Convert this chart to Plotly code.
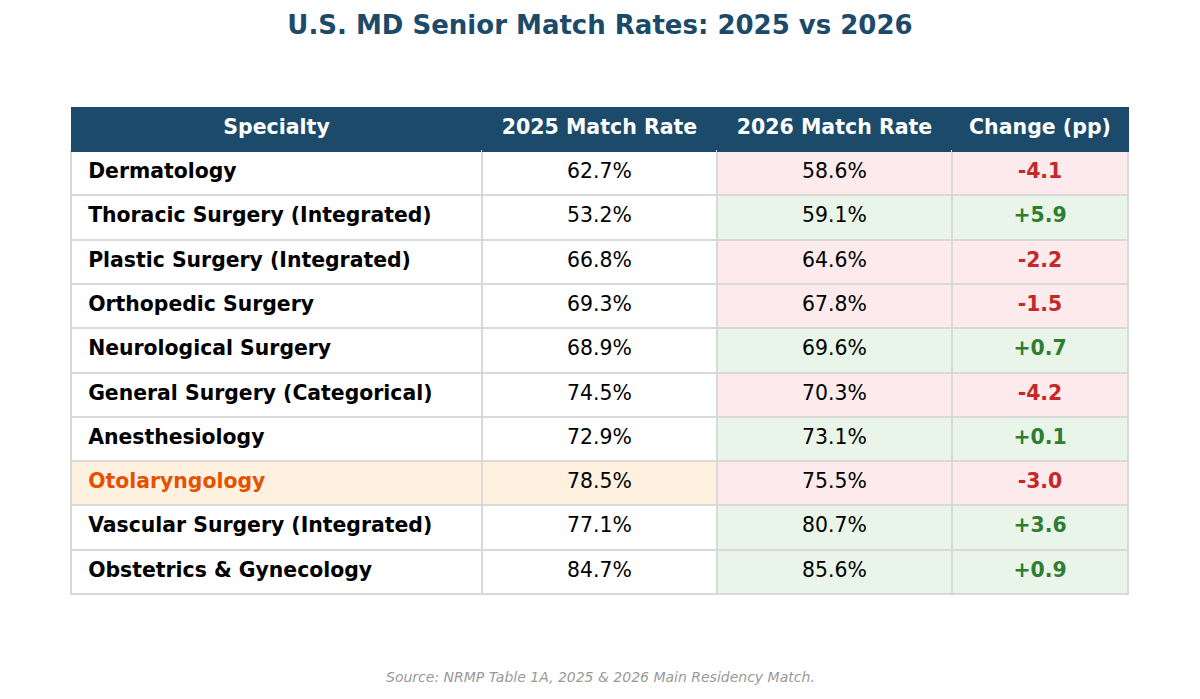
import plotly.graph_objects as go

specialties = ["Dermatology", "Thoracic Surgery (Integrated)", "Plastic Surgery (Integrated)",
               "Orthopedic Surgery", "Neurological Surgery", "General Surgery (Categorical)",
               "Anesthesiology", "Otolaryngology", "Vascular Surgery (Integrated)",
               "Obstetrics & Gynecology"]
rate_2025 = [62.7, 53.2, 66.8, 69.3, 68.9, 74.5, 72.9, 78.5, 77.1, 84.7]
rate_2026 = [58.6, 59.1, 64.6, 67.8, 69.6, 70.3, 73.1, 75.5, 80.7, 85.6]
change_pp = [-4.1, 5.9, -2.2, -1.5, 0.7, -4.2, 0.1, -3.0, 3.6, 0.9]
highlight = "Otolaryngology"
headers = ["Specialty", "2025 Match Rate", "2026 Match Rate", "Change (pp)"]

NAVY = "#1b4a6b"
RED_BG, GREEN_BG, HL_BG = "#fdeaec", "#e9f5e9", "#fef1e0"
RED_TX, GREEN_TX, HL_TX = "#c62828", "#2e7d32", "#e65100"

# page body has an 8px margin, so shift everything up/left by 8px
OFF = 8

# wrap everything in markup so all cells get the same vertical placement
col_spec = ["<b>\u00a0\u200a" + s + "</b>" for s in specialties]
col_25 = [f"<span>{v:.1f}%</span>" for v in rate_2025]
col_26 = [f"<span>{v:.1f}%</span>" for v in rate_2026]
col_ch = [f"<b>{v:+.1f}</b>" for v in change_pp]

sign_bg = [GREEN_BG if c > 0 else RED_BG for c in change_pp]
fill_spec = [HL_BG if s == highlight else "white" for s in specialties]
fill_25 = [HL_BG if s == highlight else "white" for s in specialties]
font_spec = [HL_TX if s == highlight else "black" for s in specialties]
font_ch = [GREEN_TX if c > 0 else RED_TX for c in change_pp]

fig = go.Figure(go.Table(
    domain=dict(x=[(71 - OFF)/1200, (1128 - OFF)/1200], y=[0, 1 - (107 - OFF)/699]),
    columnwidth=[411, 235, 235, 176],
    header=dict(
        values=[f"<b>{h}</b>" for h in headers],
        fill_color=NAVY,
        line=dict(color=NAVY, width=1),
        font=dict(family="DejaVu Sans", size=20.5, color="white"),
        align="center",
        height=44,
    ),
    cells=dict(
        values=[col_spec, col_25, col_26, col_ch],
        fill_color=[fill_spec, fill_25, sign_bg, sign_bg],
        line=dict(color="#d9d9d9", width=2),
        font=dict(family="DejaVu Sans", size=20.4,
                  color=[font_spec, ["black"] * 10, ["black"] * 10, font_ch]),
        align=["left", "center", "center", "center"],
        height=44.3,
    ),
))

fig.update_layout(
    width=1200, height=699,
    margin=dict(l=0, r=0, t=0, b=0),
    paper_bgcolor="white",
    title=dict(text="<b>U.S. MD Senior Match Rates: 2025 vs 2026</b>",
               x=0.5 - OFF/1200, xanchor="center", y=1 - (25 - OFF)/699, yanchor="middle",
               font=dict(family="DejaVu Sans", size=26, color=NAVY)),
    annotations=[dict(text="<i>Source: NRMP Table 1A, 2025 & 2026 Main Residency Match.</i>",
                      x=0.5 - OFF/1200, y=1 - (677 - OFF)/699, xref="paper", yref="paper",
                      xanchor="center", yanchor="middle", showarrow=False,
                      font=dict(family="DejaVu Sans", size=14, color="#999999"))],
)

fig.write_html("out.html")
